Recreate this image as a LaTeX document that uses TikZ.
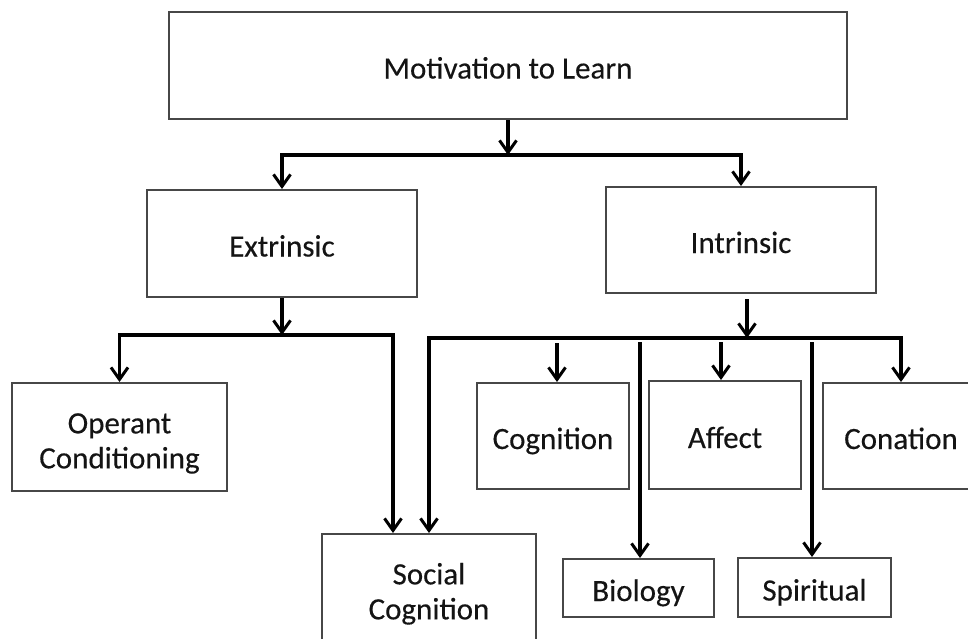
\documentclass[tikz,border=0pt]{standalone}
\usepackage{fontspec}
\setmainfont{Carlito}[FakeBold=0.3]
\usetikzlibrary{arrows.meta}

\tikzset{
  boxbase/.style={draw=black!72, line width=2pt, inner sep=0pt,
    font=\fontsize{31}{35}\selectfont, text=black!92},
  % one line of text, baseline set a little below the middle
  box/.style={boxbase, text height=26pt, text depth=0pt},
  % two lines of text
  boxtwo/.style={boxbase, align=center},
  arrowline/.style={line width=3.2pt, draw=black,
    -{Straight Barb[length=12pt,width=17pt,line width=3pt]}}
}
\newcommand{\toprule}{\rule{0pt}{33pt}}

\begin{document}
\begin{tikzpicture}[x=1pt,y=-1pt]
  \useasboundingbox (0,0) rectangle (968,638);
  \clip (0,0) rectangle (968,638);

  % boxes
  \node[box, minimum width=678pt, minimum height=107pt] (top) at (508,65.5) {Motivation to Learn};
  \node[box, minimum width=270pt, minimum height=107pt] (ext) at (282,243.5) {Extrinsic};
  \node[box, minimum width=270pt, minimum height=106pt] (int) at (741,240) {Intrinsic};
  \node[boxtwo, minimum width=215pt, minimum height=108pt] (op) at (119.5,437) {\toprule Operant\\Conditioning};
  \node[boxtwo, minimum width=214pt, minimum height=108pt] (soc) at (429,588) {\toprule Social\\Cognition};
  \node[box, minimum width=152pt, minimum height=106pt] (cog) at (553,436) {Cognition};
  \node[box, minimum width=152pt, minimum height=108pt] (aff) at (725,435) {Affect};
  \node[box, minimum width=156pt, minimum height=106pt] (con) at (901,436) {Conation};
  \node[box, minimum width=151pt, minimum height=58pt] (bio) at (638.5,588) {Biology};
  \node[box, minimum width=153pt, minimum height=59pt] (spi) at (814.5,587.5) {Spiritual};

  % branch points
  \coordinate (b1) at (508,155);
  \coordinate (b2) at (282,335);
  \coordinate (b3) at (747,338);
  \coordinate (i0) at (747,299);
  \coordinate (c1) at (557,343);
  \coordinate (c2) at (721,342);
  \coordinate (c3) at (640,342);
  \coordinate (c4) at (812,342);
  \coordinate (s1) at (393,335);

  % first level
  \draw[arrowline] (top.south) -- (b1);
  \draw[arrowline] (b1) -| (ext.north);
  \draw[arrowline] (b1) -| (int.north);

  % extrinsic branch
  \draw[arrowline] (ext.south) -- (b2);
  \draw[arrowline] (b2) -| (op.north);
  \draw[arrowline] (b2) -- (s1) -- (s1 |- soc.north);

  % intrinsic branch
  \draw[arrowline] (i0) -- (b3);
  \draw[arrowline] (b3) -| (soc.north);
  \draw[arrowline] (b3) -| (con.north);
  \draw[arrowline] (c1) -- (c1 |- cog.north);
  \draw[arrowline] (c2) -- (c2 |- aff.north);
  \draw[arrowline] (c3) -- (c3 |- bio.north);
  \draw[arrowline] (c4) -- (c4 |- spi.north);
\end{tikzpicture}
\end{document}
